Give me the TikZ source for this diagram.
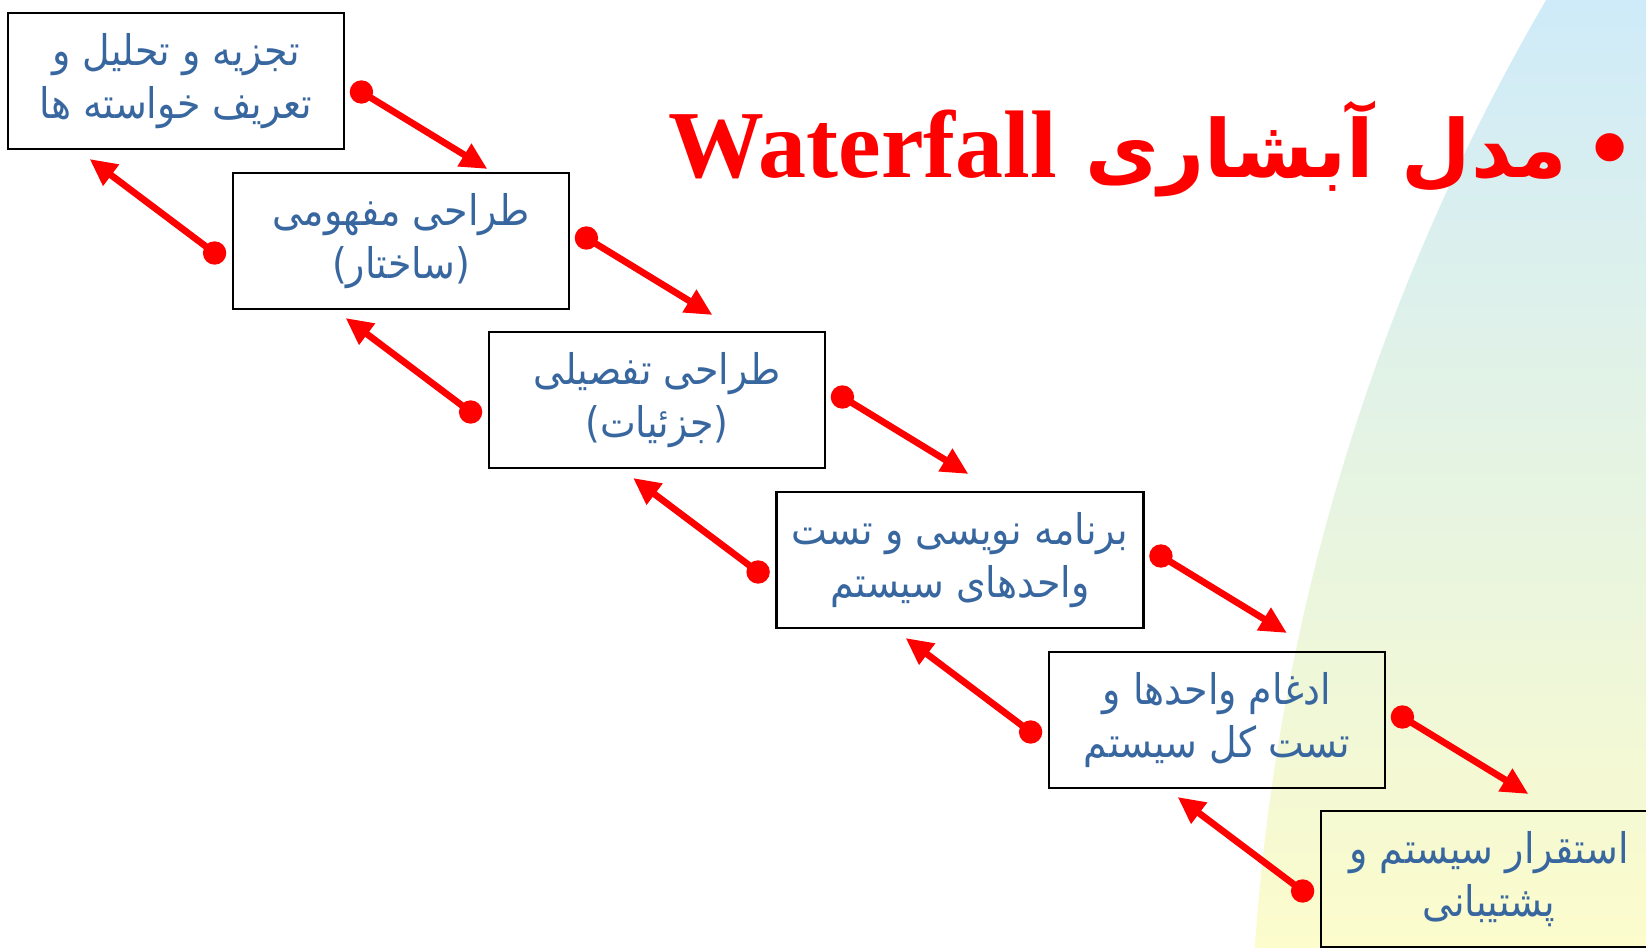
\documentclass[tikz,border=0pt]{standalone}
\usepackage{fontspec}
\usetikzlibrary{positioning,arrows.meta}
\TeXXeTstate=1
\newfontfamily\fatext[Script=Arabic,FakeStretch=0.9]{DejaVu Sans}
\newfontfamily\fatitle[Script=Arabic]{DejaVu Sans}
\newfontfamily\entext{Liberation Serif}
\definecolor{boxblue}{RGB}{56,103,160}
\definecolor{bgblue}{RGB}{207,235,249}
\definecolor{bgyellow}{RGB}{252,252,204}
\newcommand{\rline}[1]{\beginR#1\endR}

\begin{document}
\begin{tikzpicture}
  [stage/.style={draw, line width=0.8pt, minimum width=3.36cm, minimum height=1.36cm, inner sep=0pt, align=center, text=boxblue, font=\fatext\fontsize{12}{15.2}\selectfont},
   dot/.style={circle, fill=red, inner sep=0pt, minimum size=0.234cm},
   flow/.style={red, line width=1.9pt, -{Triangle[length=0.27cm,width=0.25cm]}}]
  \useasboundingbox (0,0) rectangle (16.46,9.47);

  % background arc
  \begin{scope}
    \clip (34.35,-1.53) circle (21.855);
    \shade[top color=bgblue, bottom color=bgyellow] (0,0) rectangle (16.46,9.47);
  \end{scope}

  % title
  \node[text=red, anchor=base east, inner sep=0pt] (title) at (16.36,7.69)
    {\fatitle\bfseries\fontsize{22.8}{27}\selectfont\beginR\textbullet\hspace{0.17cm}مدل آبشاری \beginL{\entext\bfseries\fontsize{27.3}{30}\selectfont Waterfall}\endL\endR};

  % stages
  \node[stage] (b1) at (1.76,8.66) {\rline{تجزیه و تحلیل و}\\\rline{تعریف خواسته ها}};
  \node[stage] (b2) at (4.01,7.06) {\rline{طراحی مفهومی}\\\rline{(ساختار)}};
  \node[stage] (b3) at (6.57,5.47) {\rline{طراحی تفصیلی}\\\rline{(جزئیات)}};
  \node[stage, minimum width=3.67cm] (b4) at (9.60,3.87) {\rline{برنامه نویسی و تست}\\\rline{واحدهای سیستم}};
  \node[stage] (b5) at (12.17,2.27) {\rline{ادغام واحدها و}\\\rline{تست کل سیستم}};
  \node[stage] (b6) at (14.89,0.68) {\rline{استقرار سیستم و}\\\rline{پشتیبانی}};

  % forward arrows
  \foreach \i/\dy in {1/-0.11,2/0.03,3/0.03,4/0.04,5/0.03}{
    \path ([shift={(0.16,\dy)}]b\i.east) node[dot] (s\i) {} ++(1.26,-0.77) coordinate (e\i);
    \draw[flow] (s\i.center) -- (e\i);
  }

  % backward arrows
  \foreach \i in {2,...,6}{
    \path ([shift={(-0.17,-0.12)}]b\i.west) node[dot] (r\i) {} ++(-1.25,0.94) coordinate (q\i);
    \draw[flow] (r\i.center) -- (q\i);
  }
\end{tikzpicture}
\end{document}
